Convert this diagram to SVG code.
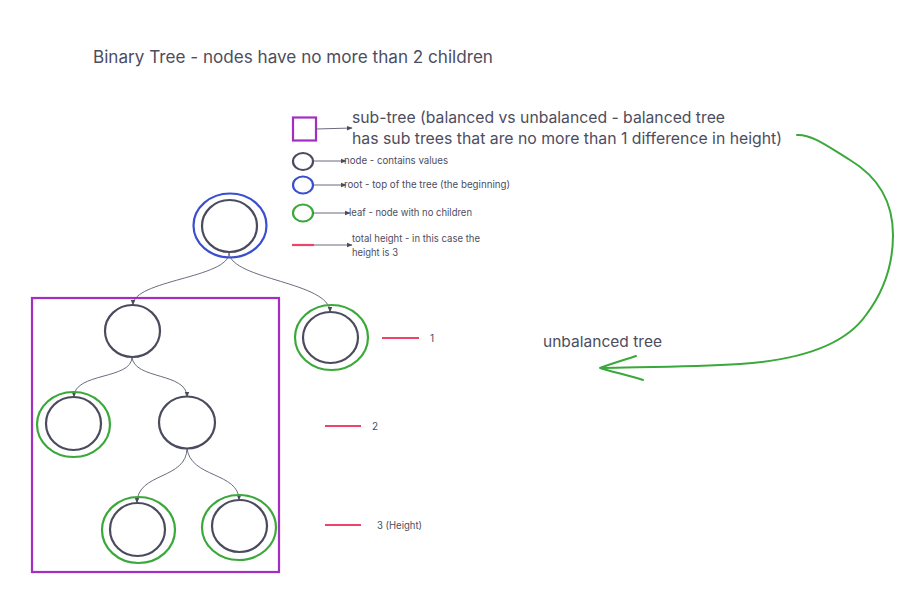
<svg xmlns="http://www.w3.org/2000/svg" width="921" height="595" viewBox="0 0 921 595">
<defs>
<style>
.t{font-family:Inter,"Liberation Sans",sans-serif;fill:#4d4d60}
.node{fill:none;stroke:#4b4b5e;stroke-width:2.2}
.root{fill:none;stroke:#3a4fcf;stroke-width:2.2}
.leaf{fill:none;stroke:#3aa83a;stroke-width:2.2}
.sub{fill:none;stroke:#a42ec4;stroke-width:2.2}
.h{stroke:#f0436a;stroke-width:2.2}
.c{fill:none;stroke:#5a5a70;stroke-width:0.9}
.green{fill:none;stroke:#3aa83a;stroke-width:2;stroke-linecap:round;stroke-linejoin:round}
</style>
<marker id="ah" viewBox="0 0 10 10" refX="9" refY="5" markerWidth="6" markerHeight="6" markerUnits="userSpaceOnUse" orient="auto">
<path d="M0,1 L10,5 L0,9 z" fill="#4b4b5e"/>
</marker>
</defs>
<rect width="921" height="595" fill="#ffffff"/>

<text class="t" x="93" y="63" font-size="17" textLength="400" lengthAdjust="spacingAndGlyphs">Binary Tree - nodes have no more than 2 children</text>

<g id="legend">
<g id="legend-subtree">
<rect class="sub" x="293" y="117.5" width="23" height="23"/>
<line class="c" x1="316" y1="129" x2="352" y2="128" marker-end="url(#ah)"/>
<text class="t" x="352" y="123" font-size="16" textLength="373" lengthAdjust="spacingAndGlyphs">sub-tree (balanced vs unbalanced - balanced tree</text>
<text class="t" x="352" y="144" font-size="16" textLength="430" lengthAdjust="spacingAndGlyphs">has sub trees that are no more than 1 difference in height)</text>
</g>
<g id="legend-node">
<ellipse class="node" cx="303" cy="161.5" rx="10" ry="8.5"/>
<line class="c" x1="313" y1="161" x2="346" y2="161" marker-end="url(#ah)"/>
<text class="t" x="344" y="164" font-size="10" textLength="104" lengthAdjust="spacingAndGlyphs">node - contains values</text>
</g>
<g id="legend-root">
<ellipse class="root" cx="303" cy="185" rx="10" ry="8.5"/>
<line class="c" x1="313" y1="185" x2="346" y2="185" marker-end="url(#ah)"/>
<text class="t" x="344" y="188" font-size="10" textLength="166" lengthAdjust="spacingAndGlyphs">root - top of the tree (the beginning)</text>
</g>
<g id="legend-leaf">
<ellipse class="leaf" cx="303" cy="213" rx="10" ry="8.5"/>
<line class="c" x1="313" y1="213" x2="350" y2="213" marker-end="url(#ah)"/>
<text class="t" x="349" y="216" font-size="10" textLength="123" lengthAdjust="spacingAndGlyphs">leaf - node with no children</text>
</g>
<g id="legend-height">
<line class="h" x1="292" y1="245" x2="314" y2="245"/>
<line class="c" x1="314" y1="245" x2="352" y2="245" marker-end="url(#ah)"/>
<text class="t" x="352" y="242" font-size="10" textLength="128" lengthAdjust="spacingAndGlyphs">total height - in this case the</text>
<text class="t" x="352" y="256" font-size="10" textLength="46" lengthAdjust="spacingAndGlyphs">height is 3</text>
</g>
</g>

<g id="subtree-box">
<rect class="sub" x="32" y="298" width="247" height="274"/>
</g>

<g id="connectors">
<path class="c" d="M229,253 C229,278 133,280 133,305" marker-end="url(#ah)"/>
<path class="c" d="M229,253 C232,280 330,282 330,312" marker-end="url(#ah)"/>
<path class="c" d="M132,357 C132,380 74,372 74,397" marker-end="url(#ah)"/>
<path class="c" d="M132,357 C134,380 187,372 187,397" marker-end="url(#ah)"/>
<path class="c" d="M187,448 C187,480 137,472 137,503" marker-end="url(#ah)"/>
<path class="c" d="M187,448 C190,478 239,472 239,500" marker-end="url(#ah)"/>
</g>

<g id="n-root">
<ellipse class="root" cx="230" cy="225.5" rx="36.5" ry="32"/>
<ellipse class="node" cx="229.5" cy="226" rx="27.5" ry="26"/>
</g>
<g id="n-left">
<ellipse class="node" cx="132.5" cy="331" rx="27.5" ry="26"/>
</g>
<g id="n-right">
<ellipse class="leaf" cx="331.5" cy="337.5" rx="36.5" ry="32.5"/>
<ellipse class="node" cx="330.5" cy="337.5" rx="27.5" ry="25.5"/>
</g>
<g id="n-left-left">
<ellipse class="leaf" cx="73.5" cy="424.5" rx="36.5" ry="32.5"/>
<ellipse class="node" cx="73.5" cy="423.5" rx="27.5" ry="26.5"/>
</g>
<g id="n-left-right">
<ellipse class="node" cx="187" cy="422.5" rx="28" ry="26"/>
</g>
<g id="n-lrl">
<ellipse class="leaf" cx="138.5" cy="530" rx="36.5" ry="33"/>
<ellipse class="node" cx="137.5" cy="529.5" rx="27.5" ry="26.5"/>
</g>
<g id="n-lrr">
<ellipse class="leaf" cx="239" cy="527.5" rx="37" ry="32.5"/>
<ellipse class="node" cx="239.5" cy="526" rx="27.5" ry="26"/>
</g>

<g id="height-markers">
<line class="h" x1="382" y1="338" x2="419" y2="338"/>
<text class="t" x="430" y="342" font-size="10">1</text>
<line class="h" x1="325" y1="426" x2="361" y2="426"/>
<text class="t" x="372" y="430" font-size="10">2</text>
<line class="h" x1="325" y1="525" x2="361" y2="525"/>
<text class="t" x="377" y="529" font-size="10" textLength="45" lengthAdjust="spacingAndGlyphs">3 (Height)</text>
</g>

<g id="unbalanced">
<text class="t" x="543" y="347" font-size="15" textLength="119" lengthAdjust="spacingAndGlyphs">unbalanced tree</text>
<path class="green" d="M797,135 C812,134 830,148 850,160 C880,178 893,205 893,235 C893,262 885,290 866,315 C845,345 800,360 740,364 C690,367 640,367 602,368"/>
<path class="green" d="M636,356 C624,360 610,364 600,368 C612,372 628,375 643,380"/>
</g>
</svg>
